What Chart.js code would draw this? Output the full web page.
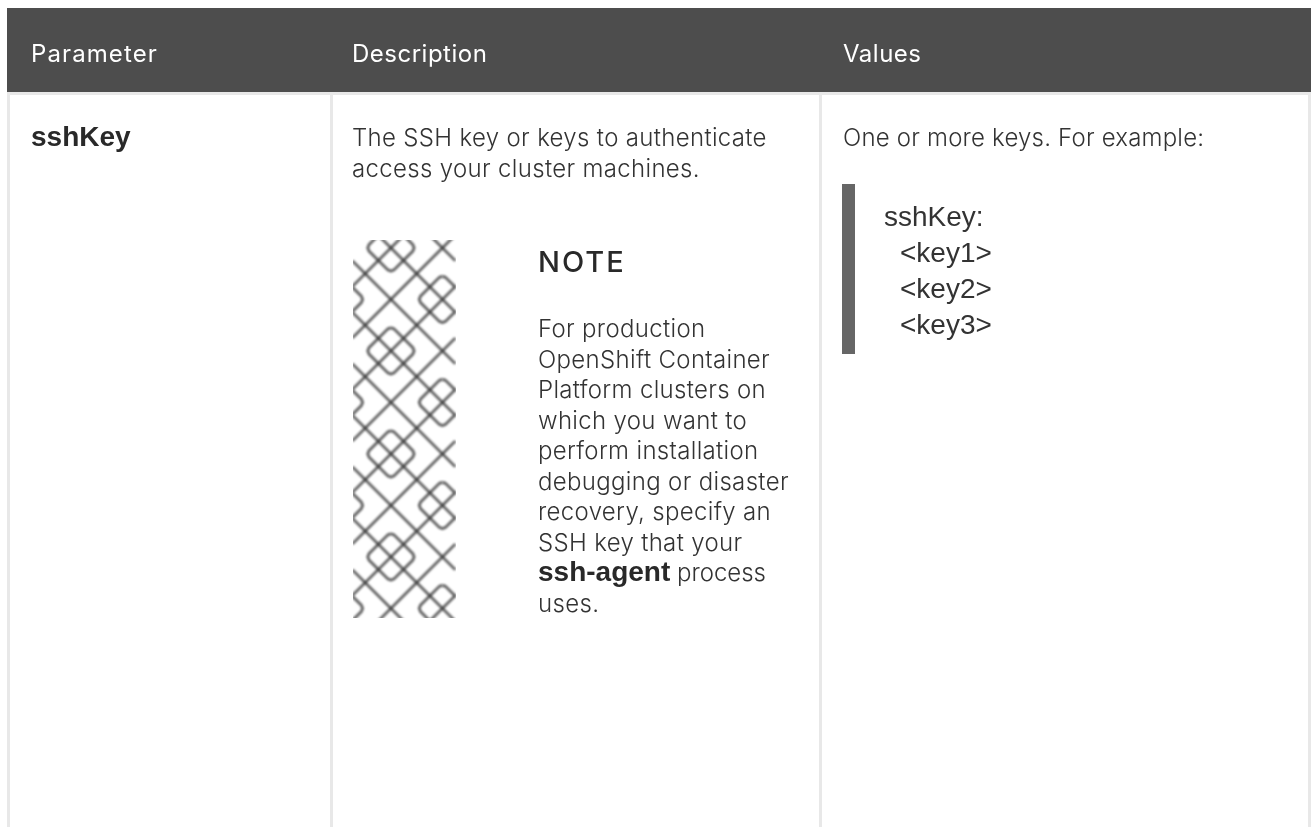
<!DOCTYPE html>
<html>
<head>
<meta charset="utf-8">
<title>sshKey parameter</title>
<script src="https://cdn.jsdelivr.net/npm/chart.js@4"></script>
<style>
  body { margin: 0; background: #fff; }
  canvas { display: block; }
</style>
</head>
<body>
<canvas id="myChart" width="1311" height="827"></canvas>
<script>
// table text
var headers = ["Parameter", "Description", "Values"];
var paramName = "sshKey";
var descLines = ["The SSH key or keys to authenticate", "access your cluster machines."];
var noteTitle = "NOTE";
var noteLines = ["For production", "OpenShift Container", "Platform clusters on", "which you want to", "perform installation", "debugging or disaster", "recovery, specify an", "SSH key that your", "", "uses."];
var noteBold = "ssh-agent";
var noteTail = " process";
var valueLine = "One or more keys. For example:";
var codeLines = ["sshKey:", "  <key1>", "  <key2>", "  <key3>"];

// table rules, in page pixels
var columnRules = [8.5, 331, 820.5, 1309.5];
var headerRule = [93.5];
var headerBand = [{x: 7, y: 50}, {x: 1311, y: 50}];
var codeBar = [{x: 848.5, y: 184}, {x: 848.5, y: 354}];

// note icon lattice, one tile, in lattice units
var longLines = [
    [[0, 2], [8, 10]],
    [[0, 6], [8, 14]],
    [[0, 8], [8, 0]],
    [[0, 12], [8, 4]]
];
var tileSquares = [
    [[3, 7.2], [2.75, 7.3], [1.3, 8.75], [1.2, 9], [1.3, 9.25], [2.75, 10.7], [3, 10.8], [3.25, 10.7], [4.7, 9.25], [4.8, 9], [4.7, 8.75], [3.25, 7.3], [3, 7.2]],
    [[7, 3.2], [6.75, 3.3], [5.3, 4.75], [5.2, 5], [5.3, 5.25], [6.75, 6.7], [7, 6.8], [7.25, 6.7], [8, 5.95]],
    [[0, 4.05], [0.7, 4.75], [0.8, 5], [0.7, 5.25], [0, 5.95]],
    [[7, 3.2], [7.25, 3.3], [8, 4.05]]
];
var tileRows = [-8, 0, 8, 16, 24, 32];

var unit = 12.875;
var iconLeft = 352.3;
var iconTop = 235;
var iconClip = {left: 353, right: 456, top: 240, bottom: 618};

function latticePoints(line, row) {
    return line.map(function (p) {
        return {x: iconLeft + p[0] * unit, y: iconTop + (p[1] + row) * unit};
    });
}

var datasets = [
    {data: headerBand, borderColor: "#4d4d4d", borderWidth: 84, pointRadius: 0, borderCapStyle: "butt"},
    {data: codeBar, borderColor: "#666666", borderWidth: 13, pointRadius: 0, borderCapStyle: "butt"}
];

tileRows.forEach(function (row) {
    longLines.concat(tileSquares).forEach(function (line) {
        datasets.push({
            icon: true,
            data: latticePoints(line, row),
            borderColor: "rgba(50,50,50,0.72)",
            borderWidth: 3,
            pointRadius: 0,
            borderJoinStyle: "round"
        });
    });
});

var iconPlugin = {
    id: "iconPlugin",
    beforeDatasetDraw: function (chart, args) {
        if (!chart.data.datasets[args.index].icon) return;
        var ctx = chart.ctx;
        ctx.save();
        ctx.beginPath();
        ctx.rect(iconClip.left, iconClip.top, iconClip.right - iconClip.left, iconClip.bottom - iconClip.top);
        ctx.clip();
        ctx.filter = "blur(1px)";
    },
    afterDatasetDraw: function (chart, args) {
        if (!chart.data.datasets[args.index].icon) return;
        chart.ctx.restore();
    }
};

var BODY = 'Inter, sans-serif';
var MONO = '"Liberation Sans", sans-serif';

function put(ctx, str, x, y, font, color, spacing) {
    ctx.font = font;
    ctx.fillStyle = color;
    ctx.letterSpacing = (spacing || 0) + "px";
    ctx.fillText(str, x, y);
    return ctx.measureText(str).width;
}

var textPlugin = {
    id: "textPlugin",
    afterDraw: function (chart) {
        var ctx = chart.ctx;
        var ink = "#333333";
        var bold = "#292929";
        var size = "300 24px ";
        ctx.save();
        ctx.textBaseline = "alphabetic";
        ctx.textAlign = "left";

        put(ctx, headers[0], 31, 62, "400 24px " + BODY, "#ffffff", 1.1);
        put(ctx, headers[1], 352, 62, "400 24px " + BODY, "#ffffff", 0.5);
        put(ctx, headers[2], 843, 62, "400 24px " + BODY, "#ffffff", 0.5);

        put(ctx, paramName, 31, 146, "bold 28px " + MONO, bold, 0);

        put(ctx, descLines[0], 352, 146, size + BODY, ink, 0.33);
        put(ctx, descLines[1], 352, 177, size + BODY, ink, 0.33);

        put(ctx, noteTitle, 538, 272, "500 29px " + BODY, bold, 2);
        noteLines.forEach(function (line, i) {
            put(ctx, line, 538, 337 + i * 30.55, size + BODY, ink, 0.33);
        });
        var w = put(ctx, noteBold, 538, 337 + 8 * 30.55, "bold 28px " + MONO, bold, 0);
        put(ctx, noteTail, 538 + w, 337 + 8 * 30.55, size + BODY, ink, 0);

        put(ctx, valueLine, 843, 146, size + BODY, ink, 0.2);
        codeLines.forEach(function (line, i) {
            put(ctx, line.trim(), i === 0 ? 884 : 900, 226 + i * 36, "28px " + MONO, ink, 0);
        });
        ctx.restore();
    }
};

new Chart("myChart", {
    type: "line",
    data: {datasets: datasets},
    options: {
        responsive: false,
        animation: false,
        layout: {padding: {left: 7, top: 8, right: 0, bottom: 0}},
        plugins: {legend: {display: false}, tooltip: {enabled: false}},
        scales: {
            x: {
                type: "linear",
                min: 7,
                max: 1311,
                border: {display: false},
                ticks: {display: false},
                grid: {color: "#e8e8e8", lineWidth: 3, drawTicks: false},
                afterBuildTicks: function (axis) {
                    axis.ticks = columnRules.map(function (v) { return {value: v}; });
                }
            },
            y: {
                type: "linear",
                reverse: true,
                min: 8,
                max: 827,
                border: {display: false},
                ticks: {display: false},
                grid: {color: "#e8e8e8", lineWidth: 3, drawTicks: false},
                afterBuildTicks: function (axis) {
                    axis.ticks = headerRule.map(function (v) { return {value: v}; });
                }
            }
        }
    },
    plugins: [iconPlugin, textPlugin]
});
</script>
</body>
</html>
